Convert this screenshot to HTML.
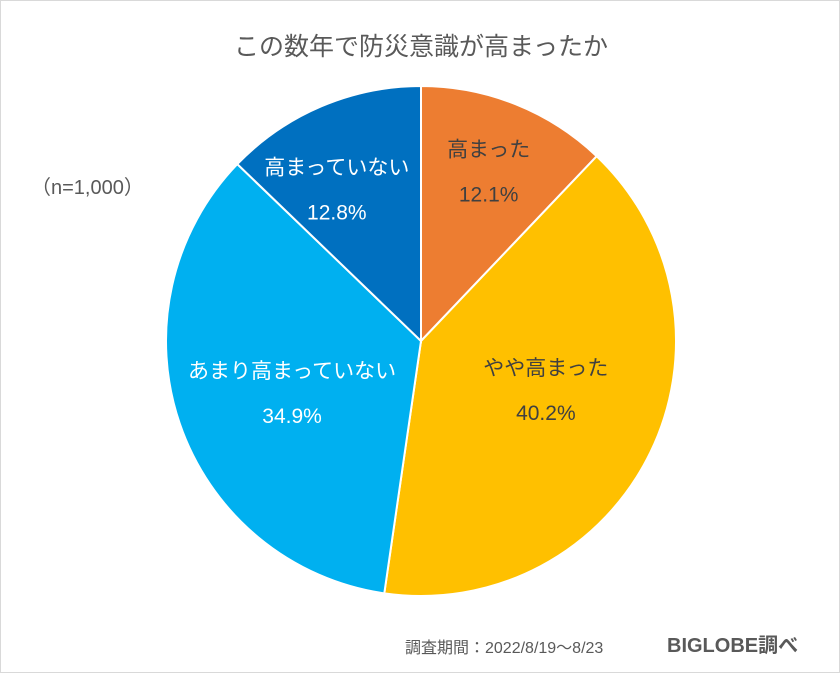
<!DOCTYPE html>
<html><head><meta charset="utf-8"><style>
body{margin:0;background:#fff;}
#wrap{position:relative;width:838px;height:671px;border:1px solid #d9d9d9;overflow:hidden;font-family:"Liberation Sans","Noto Sans CJK JP",sans-serif;}
.t{position:absolute;white-space:nowrap;}
</style></head><body>
<div id="wrap">
<div class="t" style="left:0;width:840px;text-align:center;top:26px;font-size:25px;color:#595959;">この数年で防災意識が高まったか</div>
<div class="t" style="left:30px;top:170px;font-size:20px;color:#595959;">（n=1,000）</div>
<svg id="pie" width="840" height="673" style="position:absolute;left:0;top:0"></svg>
<div class="t" style="left:404px;top:633px;font-size:16px;color:#595959;">調査期間：2022/8/19〜8/23</div>
<div class="t" style="left:666px;top:628px;font-size:20px;font-weight:bold;color:#595959;">BIGLOBE調べ</div>
</div>
<script>
const categories=["高まった","やや高まった","あまり高まっていない","高まっていない"];
const values=[12.1,40.2,34.9,12.8];
const colors=["#ED7D31","#FFC000","#00B0F0","#0070C0"];
const labelColors=["#404040","#404040","#ffffff","#ffffff"];
const labelRadiusFactor=[0.715,0.526,0.545,0.68];
const labelAngleOffset=[0,-4.5,-3,-6];
const cx=420,cy=340,r=255;
const svg=document.getElementById('pie');
const NS="http://www.w3.org/2000/svg";
const total=values.reduce((a,b)=>a+b,0);
let acc=0;
function pt(a,rr){return [cx+rr*Math.sin(a),cy-rr*Math.cos(a)];}
values.forEach((v,i)=>{
  const a0=acc/total*2*Math.PI;acc+=v;const a1=acc/total*2*Math.PI;
  const p0=pt(a0,r),p1=pt(a1,r);
  const large=(a1-a0)>Math.PI?1:0;
  const path=document.createElementNS(NS,'path');
  path.setAttribute('d',`M${cx},${cy}L${p0[0]},${p0[1]}A${r},${r} 0 ${large} 1 ${p1[0]},${p1[1]}Z`);
  path.setAttribute('fill',colors[i]);path.setAttribute('stroke','#fff');path.setAttribute('stroke-width','2');
  
  
  svg.appendChild(path);
});
acc=0;
values.forEach((v,i)=>{
  const a0=acc/total*2*Math.PI;acc+=v;const a1=acc/total*2*Math.PI;
  const am=(a0+a1)/2+labelAngleOffset[i]*Math.PI/180;const lp=pt(am,r*labelRadiusFactor[i]);
  const t1=document.createElementNS(NS,'text');
  t1.setAttribute('x',lp[0]);t1.setAttribute('y',lp[1]-15);t1.setAttribute('text-anchor','middle');
  t1.setAttribute('font-size','21');t1.setAttribute('fill',labelColors[i]);
  t1.textContent=categories[i];
  
  
  svg.appendChild(t1);
  const t2=document.createElementNS(NS,'text');
  t2.setAttribute('x',lp[0]);t2.setAttribute('y',lp[1]+30);t2.setAttribute('text-anchor','middle');
  t2.setAttribute('font-size','21');t2.setAttribute('fill',labelColors[i]);
  t2.textContent=v.toFixed(1)+'%';
  
  
  svg.appendChild(t2);
});
</script>
</body></html>
